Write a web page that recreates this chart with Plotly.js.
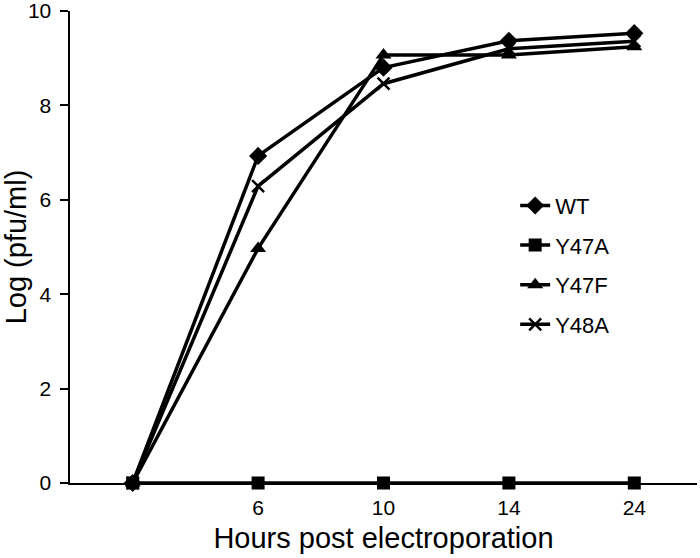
<!DOCTYPE html>
<html>
<head>
<meta charset="utf-8">
<script src="https://cdn.plot.ly/plotly-3.0.1.min.js"></script>
<style>html,body{margin:0;padding:0;background:#fff;}#chart{width:700px;height:558px;}</style>
</head>
<body>
<div id="chart"></div>
<script>
const hours = ['0', '6', '10', '14', '24'];
const tickLabels = ['6', '10', '14', '24'];
const seriesNames = ['WT', 'Y47A', 'Y47F', 'Y48A'];
const wt   = [0, 6.93, 8.80, 9.37, 9.53];
const y47a = [0, 0, 0, 0, 0];
const y47f = [0, 4.97, 9.07, 9.07, 9.24];
const y48a = [0, 6.29, 8.46, 9.20, 9.36];

const values = [wt, y47a, y47f, y48a];
const symbols = ['diamond', 'square', 'triangle-up', 'x-thin'];
const sizes = [14, 13, 14, 12];

const traces = values.map((v, i) => ({
  type: 'scatter',
  mode: 'lines+markers',
  name: seriesNames[i],
  x: hours,
  y: v,
  legendgroup: 'g' + i,
  cliponaxis: false,
  line: {color: '#000', width: 3.5},
  marker: {
    symbol: symbols[i],
    size: sizes[i],
    color: '#000',
    line: {color: '#000', width: symbols[i] === 'x-thin' ? 2.5 : 0}
  }
}));

const layout = {
  width: 700,
  height: 558,
  margin: {l: 70, r: 3, t: 11, b: 75},
  paper_bgcolor: '#fff',
  plot_bgcolor: '#fff',
  font: {family: 'Liberation Sans, Arial, sans-serif', color: '#000', size: 21},
  showlegend: true,
  legend: {
    x: 0.71, y: 0.632, xanchor: 'left', yanchor: 'top',
    font: {size: 22, color: '#000'},
    tracegroupgap: 8,
    bgcolor: 'rgba(0,0,0,0)'
  },
  xaxis: {
    type: 'category',
    categoryorder: 'array',
    categoryarray: hours,
    range: [-0.5, 4.5],
    tickmode: 'array',
    tickvals: hours.slice(1),
    ticktext: tickLabels,
    showgrid: false,
    zeroline: false,
    showline: true,
    linecolor: '#000',
    linewidth: 2,
    ticks: '',
    ticklabelstandoff: 5,
    tickfont: {size: 21},
    title: {text: 'Hours post electroporation', font: {size: 29}, standoff: 9}
  },
  yaxis: {
    range: [0, 10],
    tickvals: [0, 2, 4, 6, 8, 10],
    ticklabeloverflow: 'allow',
    showgrid: false,
    zeroline: false,
    showline: true,
    linecolor: '#000',
    linewidth: 2.5,
    ticks: 'outside',
    ticklen: 8,
    tickwidth: 2,
    tickcolor: '#000',
    ticklabelstandoff: 4,
    tickfont: {size: 21},
    title: {text: 'Log (pfu/ml)', font: {size: 29}, standoff: 10}
  }
};

Plotly.newPlot('chart', traces, layout, {displayModeBar: false, staticPlot: true});
</script>
</body>
</html>
